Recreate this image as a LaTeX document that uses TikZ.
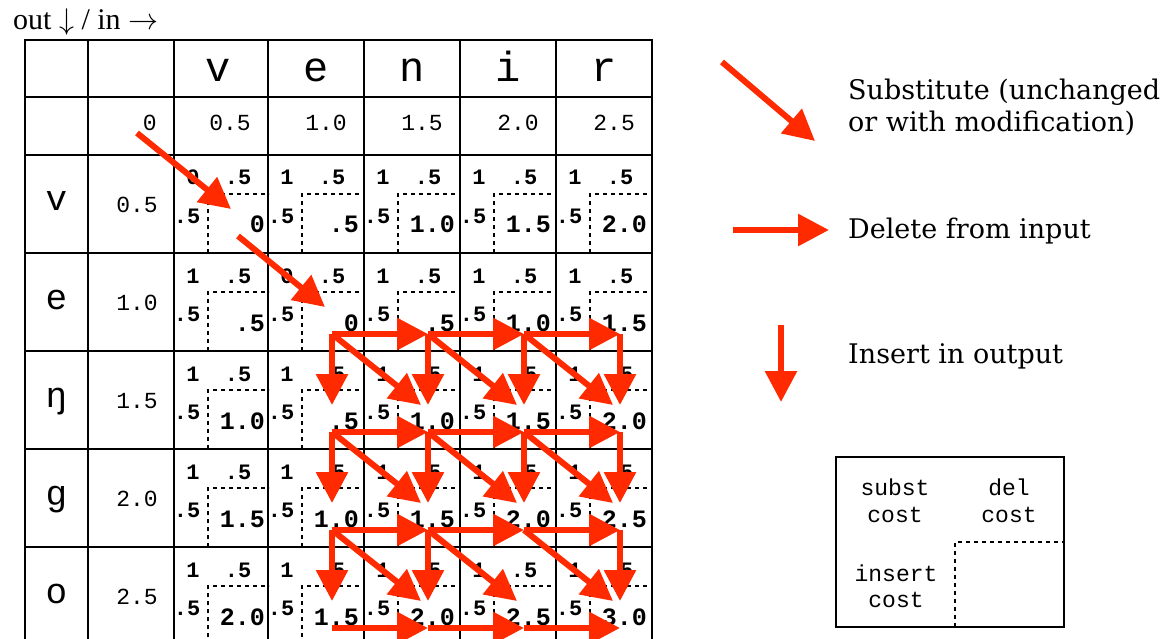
\RequirePackage{fix-cm}
\documentclass[tikz,border=0pt]{standalone}
\usepackage{fontspec}
\setmainfont{DejaVu Serif}
\setmonofont{Liberation Mono}
\newfontfamily\timesfont{Liberation Serif}
\usetikzlibrary{arrows.meta,calc}
\definecolor{pathred}{RGB}{255,42,0}
\newcommand\headfont{\ttfamily\fontsize{42}{42}\selectfont}
\newcommand\labfont{\ttfamily\fontsize{36}{36}\selectfont}
\newcommand\numfont{\ttfamily\fontsize{23}{23}\selectfont}
\newcommand\costfont{\ttfamily\bfseries\fontsize{22}{22}\selectfont}
\newcommand\valfont{\ttfamily\bfseries\fontsize{25}{25}\selectfont}
\tikzset{
  gridline/.style={line width=2pt, line cap=rect},
  costline/.style={line width=1.5pt, dash pattern=on 4pt off 4pt},
  costnum/.style={font=\costfont, anchor=base, inner sep=0pt},
  valnum/.style={font=\valfont, anchor=base east, inner sep=0pt},
  move/.style={pathred, line width=6pt, -{Triangle[length=31pt,width=31pt]}},
  keymove/.style={move, -{Triangle[length=31pt,width=31pt]}},
  keytext/.style={anchor=base west, inner sep=0pt, font=\fontsize{27}{32}\selectfont},
  boxtext/.style={anchor=base, inner sep=0pt, font=\ttfamily\fontsize{23}{23}\selectfont}
}

\begin{document}
\begin{tikzpicture}[x=1pt, y=-1pt]
  \useasboundingbox (0,0) rectangle (1167,639);
  \node[anchor=base west, inner sep=0pt, font=\timesfont\fontsize{30}{30}\selectfont] (dirs) at (13,30) {out $\downarrow$ / in $\rightarrow$};
  \foreach \ch [count=\c] in {v,e,n,i,r}
    \node[font=\headfont, anchor=base, inner sep=0pt] (in-\c) at ({76+96*\c+48-ifthenelse(\c==1,2,0)},82) {\ch};
  \foreach \num/\xr [count=\c from 0] in {0/157, 0.5/251, 1.0/347, 1.5/443, 2.0/539, 2.5/635}
    \node[font=\numfont, anchor=base east, inner sep=0pt] (top-\c) at (\xr,131) {\num};
  \foreach \ch/\num [count=\r] in {v/0.5, e/1.0, ŋ/1.5, g/2.0, o/2.5} {
    \node[font=\labfont, anchor=base, inner sep=0pt] (out-\r) at (56.5,{57+98*\r+56}) {\ch};
    \node[font=\numfont, anchor=base east, inner sep=0pt] (left-\r) at (158,{57+98*\r+57}) {\num};
  }
  \foreach \cells [count=\r] in {{0/0, 1/.5, 1/1.0, 1/1.5, 1/2.0}, {1/.5, 0/0, 1/.5, 1/1.0, 1/1.5},
      {1/1.0, 1/.5, 1/1.0, 1/1.5, 1/2.0}, {1/1.5, 1/1.0, 1/1.5, 1/2.0, 1/2.5}, {1/2.0, 1/1.5, 1/2.0, 1/2.5, 1/3.0}}
    \foreach \s/\v [count=\c] in \cells {
      \pgfmathsetmacro{\x}{ifthenelse(\c==1,174,76+96*\c)}
      \pgfmathsetmacro{\y}{57+98*\r}
      \draw[costline] (\x+34,\y+98) -- (\x+34,\y+39) -- (\x+95,\y+39);
      \node[costnum] (s-\r-\c) at (\x+19,\y+30) {\s};
      \node[costnum] (d-\r-\c) at (\x+64,\y+30) {.5};
      \node[costnum] (n-\r-\c) at (\x+13,\y+68) {.5};
      \node[valnum] (v-\r-\c) at (\x+91,\y+78) {\v};
      \coordinate (h-\r-\c) at (\x+64,\y+81);
      \coordinate (t-\r-\c) at (\x+57,\y+54);
    }
  \foreach \x in {25,88,174,268,364,460,556,652}
    \draw[gridline] (\x,40) -- (\x,650);
  \foreach \y in {40,97,155,253,351,449,547}
    \draw[gridline] (25,\y) -- (652,\y);
  \coordinate (h-0-0) at (137,133);
  \foreach \a/\b in {0-0/1-1, 1-1/2-2, 2-2/3-3, 2-3/3-4, 2-4/3-5, 3-2/4-3, 3-3/4-4, 3-4/4-5, 4-2/5-3, 4-3/5-4, 4-4/5-5}
    \draw[move] (h-\a) -- (t-\b);
  \foreach \a/\b in {2-2/2-3, 2-3/2-4, 2-4/2-5, 3-2/3-3, 3-3/3-4, 3-4/3-5, 4-2/4-3, 4-3/4-4, 4-4/4-5, 5-2/5-3, 5-3/5-4, 5-4/5-5}
    \draw[move] (h-\a) -- (h-\b);
  \foreach \a/\b in {2-2/3-2, 2-3/3-3, 2-4/3-4, 2-5/3-5, 3-2/4-2, 3-3/4-3, 3-4/4-4, 3-5/4-5, 4-2/5-2, 4-3/5-3, 4-5/5-5}
    \draw[move, shorten >=27pt] (h-\a) -- (h-\b);
  \coordinate (sub-a) at (722,62);
  \coordinate (sub-b) at (815,141);
  \coordinate (del-a) at (733,230);
  \coordinate (del-b) at (829,230);
  \coordinate (ins-a) at (781,325);
  \coordinate (ins-b) at (781,402);
  \draw[keymove] (sub-a) -- (sub-b);
  \draw[keymove] (del-a) -- (del-b);
  \draw[keymove] (ins-a) -- (ins-b);
  \node[keytext] (sub1) at (848,100) {Substitute (unchanged};
  \node[keytext] (sub2) at (848,132) {or with modification)};
  \node[keytext] (del) at (848,238) {Delete from input};
  \node[keytext] (ins) at (848,363) {Insert in output};
  \draw[gridline] (836,457) rectangle (1064,627);
  \draw[costline] (955,627) -- (955,542) -- (1064,542);
  \node[boxtext] (key-s1) at (895,495) {subst};
  \node[boxtext] (key-s2) at (895,522) {cost};
  \node[boxtext] (key-d1) at (1009,495) {del};
  \node[boxtext] (key-d2) at (1009,522) {cost};
  \node[boxtext] (key-i1) at (896,581) {insert};
  \node[boxtext] (key-i2) at (896,607) {cost};
\end{tikzpicture}
\end{document}
